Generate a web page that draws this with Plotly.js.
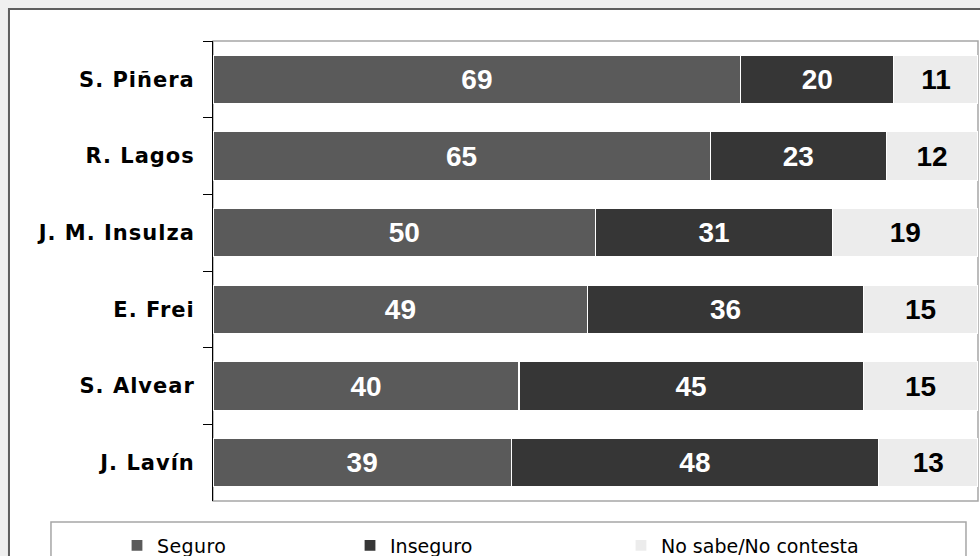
<!DOCTYPE html>
<html>
<head>
<meta charset="utf-8">
<script src="https://cdn.plot.ly/plotly-3.0.1.min.js"></script>
<style>
html, body { margin: 0; padding: 0; background: #f0f0f0; }
#chart { width: 980px; height: 556px; }
.ytick text { letter-spacing: 1px; }
.legendtext { letter-spacing: 0.4px; }
</style>
</head>
<body>
<div id="chart"></div>
<script>
const categories = ["S. Piñera", "R. Lagos", "J. M. Insulza", "E. Frei", "S. Alvear", "J. Lavín"];
const seriesNames = ["Seguro", "Inseguro", "No sabe/No contesta"];
const seguro = [69, 65, 50, 49, 40, 39];
const inseguro = [20, 23, 31, 36, 45, 48];
const noSabe = [11, 12, 19, 15, 15, 13];

const colors = ["#5a5a5a", "#363636", "#ececec"];
const textColors = ["#ffffff", "#ffffff", "#000000"];
const values = [seguro, inseguro, noSabe];
const legendIds = ["legend", "legend2", "legend3"];

const traces = values.map((v, i) => ({
  type: "bar",
  orientation: "h",
  name: seriesNames[i],
  y: categories,
  x: v,
  legend: legendIds[i],
  marker: { color: colors[i], line: { color: "#ffffff", width: 1.2 } },
  text: v.map(String),
  textposition: "inside",
  insidetextanchor: "middle",
  constraintext: "none",
  textangle: 0,
  textfont: { family: "Liberation Sans, Arial, sans-serif", size: 28, color: textColors[i], weight: "bold" },
  hoverinfo: "skip"
}));

const legendFont = { family: "DejaVu Sans, sans-serif", size: 19, color: "#000000" };
function legendAt(x) {
  return {
    orientation: "h", x: x, xanchor: "left", y: -0.097, yanchor: "middle",
    bgcolor: "rgba(0,0,0,0)", borderwidth: 0, font: legendFont
  };
}

const layout = {
  width: 980, height: 556,
  paper_bgcolor: "#f0f0f0",
  plot_bgcolor: "#ffffff",
  margin: { l: 213, r: 2, t: 41, b: 55, autoexpand: false },
  barmode: "stack",
  bargap: 0.37,
  showlegend: true,
  legend: legendAt(-0.1255),
  legend2: legendAt(0.1791),
  legend3: legendAt(0.5333),
  xaxis: {
    range: [0, 100], showticklabels: false, showgrid: false, zeroline: false,
    showline: false, ticks: "", fixedrange: true
  },
  yaxis: {
    type: "category", categoryorder: "array", categoryarray: categories,
    autorange: "reversed",
    showline: true, linecolor: "#000000", linewidth: 1,
    ticks: "outside", tickson: "boundaries", ticklen: 9, tickcolor: "#000000", tickwidth: 1,
    ticklabelstandoff: 13,
    tickfont: { family: "DejaVu Sans, sans-serif", size: 21, color: "#000000", weight: "bold" },
    showgrid: false, zeroline: false, fixedrange: true
  },
  shapes: [
    { type: "rect", xref: "paper", yref: "paper", x0: -0.2667, x1: 1.02, y0: -0.2, y1: 1.0696,
      line: { color: "#5f5f5f", width: 2 }, fillcolor: "#ffffff", layer: "below" },
    { type: "rect", xref: "paper", yref: "paper", x0: 0, x1: 1, y0: 0, y1: 1,
      line: { color: "#a6a6a6", width: 1.5 }, fillcolor: "rgba(0,0,0,0)", layer: "below" },
    { type: "rect", xref: "paper", yref: "paper", x0: -0.2118, x1: 0.9843, y0: -0.2, y1: -0.0457,
      line: { color: "#a6a6a6", width: 1.5 }, fillcolor: "rgba(0,0,0,0)", layer: "below" }
  ]
};

Plotly.newPlot("chart", traces, layout, { displayModeBar: false, staticPlot: true });
</script>
</body>
</html>
